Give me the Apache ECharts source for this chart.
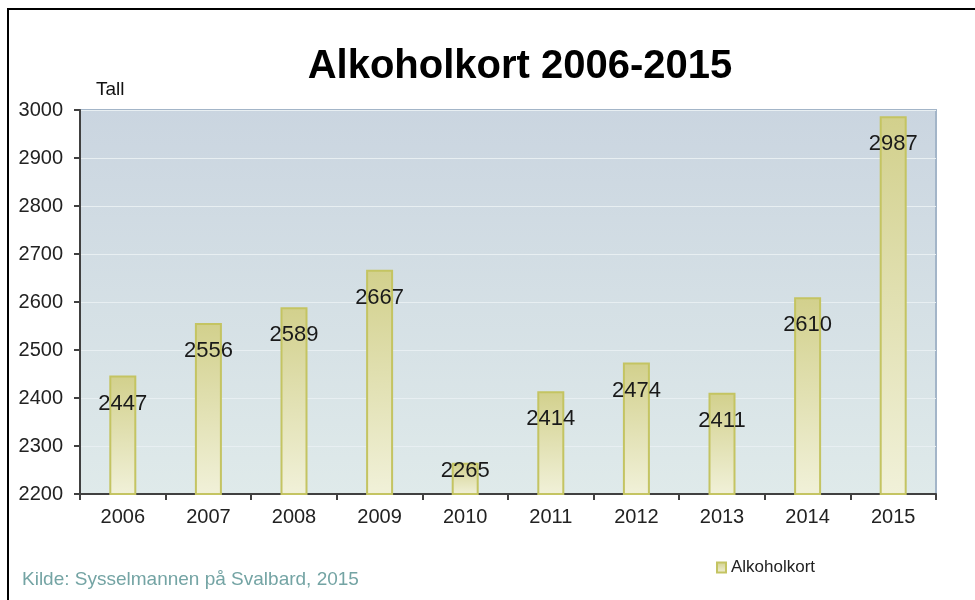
<!DOCTYPE html>
<html><head><meta charset="utf-8">
<script src="https://cdn.jsdelivr.net/npm/echarts@6/dist/echarts.min.js"></script>
<style>html,body{margin:0;padding:0;background:#fff}#c{width:975px;height:600px}</style>
</head><body><div id="c"></div>
<script>
const categories = ['2006','2007','2008','2009','2010','2011','2012','2013','2014','2015'];
const values = [2447, 2556, 2589, 2667, 2265, 2414, 2474, 2411, 2610, 2987];
const seriesName = 'Alkoholkort';
const titleText = 'Alkoholkort 2006-2015';
const yAxisName = 'Tall';
const sourceText = 'Kilde: Sysselmannen på Svalbard, 2015';

const FONT = 'Liberation Sans, Arial, sans-serif';
const chart = echarts.init(document.getElementById('c'), null, {renderer:'canvas'});
const barFill = new echarts.graphic.LinearGradient(0,0,0,1,[
  {offset:0,color:'#d2d08c'},{offset:1,color:'#f1f1d9'}]);
const data = values.map(v => {
  const d = {value: v};
  if (v - 2200 < 100) d.label = {offset:[0,-20]};
  return d;
});
chart.setOption({
  animation:false,
  backgroundColor:'#fff',
  title:{text:titleText,left:515,top:42,textAlign:'center',
    textStyle:{fontFamily:FONT,fontSize:40,fontWeight:'bold',color:'#000'}},
  legend:{left:711,top:554,itemWidth:9,itemHeight:10,itemGap:4,
    textStyle:{fontFamily:FONT,fontSize:17,color:'#222'},
    data:[{name:seriesName,icon:'rect'}]},
  grid:{left:80,right:39,top:110,bottom:106,show:true,borderColor:'#a3b5c8',borderWidth:2,
    backgroundColor:new echarts.graphic.LinearGradient(0,0,0,1,[
      {offset:0,color:'#cad5e0'},{offset:1,color:'#dfeaea'}])},
  xAxis:{type:'category',data:categories,
    axisLine:{lineStyle:{color:'#404040',width:2}},
    axisTick:{show:true,length:6,lineStyle:{color:'#404040',width:2}},
    axisLabel:{fontFamily:FONT,fontSize:20,color:'#222',margin:13}},
  yAxis:{type:'value',min:2200,max:3000,interval:100,
    name:yAxisName,nameLocation:'end',nameGap:11,
    nameTextStyle:{fontFamily:FONT,fontSize:19,color:'#111',align:'left',padding:[0,0,0,16]},
    axisLine:{show:true,lineStyle:{color:'#404040',width:2}},
    axisTick:{show:true,length:6,lineStyle:{color:'#404040',width:2}},
    axisLabel:{fontFamily:FONT,fontSize:20,color:'#222',margin:17,formatter:v=>String(v)},
    splitLine:{lineStyle:{color:'#e8eff2',width:1}}},
  series:[{name:seriesName,type:'bar',data:data,barWidth:27,
    itemStyle:{color:barFill,borderColor:'#c4c462',borderWidth:2},
    label:{show:true,position:'insideTop',distance:17,
      fontFamily:FONT,fontSize:22,color:'#1a1a1a'}}],
  graphic:[
    {type:'rect',shape:{x:8,y:9,width:1000,height:1000},style:{fill:'none',stroke:'#000',lineWidth:2},silent:true},
    {type:'text',left:22,top:570,style:{text:sourceText,fontFamily:FONT,fontSize:19,fill:'#74a4a4'}}
  ]
});
</script></body></html>
